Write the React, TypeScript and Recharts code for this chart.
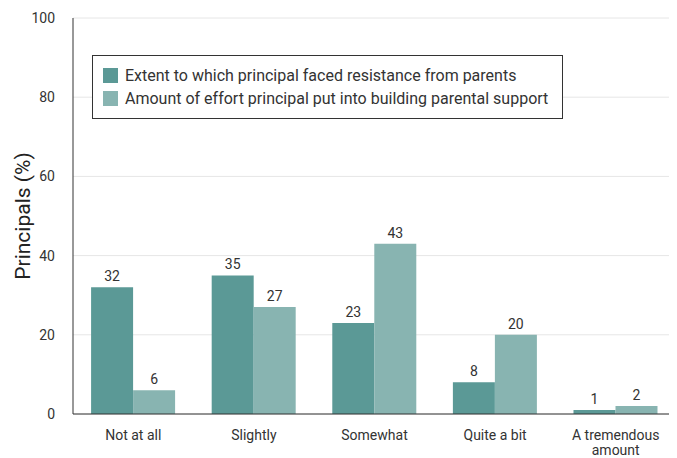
import React from "react";
import {
  BarChart,
  Bar,
  XAxis,
  YAxis,
  CartesianGrid,
  LabelList,
} from "recharts";

const categories = ["Not at all", "Slightly", "Somewhat", "Quite a bit", "A tremendous amount"];
const resistance = [32, 35, 23, 8, 1];
const effort = [6, 27, 43, 20, 2];
const yTicks = [0, 20, 40, 60, 80, 100];

const seriesNames = {
  resistance: "Extent to which principal faced resistance from parents",
  effort: "Amount of effort principal put into building parental support",
};

const DARK = "#5b9996";
const LIGHT = "#88b4b1";
const FONT = "Roboto, 'DejaVu Sans', sans-serif";

const data = categories.map((c, i) => ({
  name: c,
  resistance: resistance[i],
  effort: effort[i],
}));

function CategoryTick(props: any) {
  const { x, y, payload } = props;
  const label: string = payload.value;
  const lines = label === "A tremendous amount" ? ["A tremendous", "amount"] : [label];
  return (
    <text x={x} y={y} textAnchor="middle" fill="#333" fontSize={14} fontFamily={FONT}>
      {lines.map((l, i) => (
        <tspan key={i} x={x} dy={i === 0 ? 18 : 15}>
          {l}
        </tspan>
      ))}
    </text>
  );
}

function LegendBox() {
  const items = [
    { color: DARK, text: seriesNames.resistance },
    { color: LIGHT, text: seriesNames.effort },
  ];
  return (
    <div
      style={{
        position: "absolute",
        left: 84,
        top: 47,
        boxSizing: "border-box",
        width: 471,
        height: 64,
        border: "1px solid #333",
        background: "#fff",
        padding: "8px 10px",
        fontFamily: FONT,
        fontSize: 16,
        color: "#333",
      }}
    >
      {items.map((it) => (
        <div key={it.text} style={{ display: "flex", alignItems: "center", height: 23, whiteSpace: "nowrap" }}>
          <span style={{ flex: "none", width: 15, height: 15, background: it.color, marginRight: 7 }} />
          {it.text}
        </div>
      ))}
    </div>
  );
}

export default function App() {
  return (
    <div style={{ position: "relative", width: 669, height: 450 }}>
      <BarChart
        width={669}
        height={450}
        data={data}
        margin={{ top: 10, right: 1, bottom: 0, left: 0 }}
        barCategoryGap="15%"
        barGap={0}
        style={{ fontFamily: FONT }}
      >
        <CartesianGrid vertical={false} stroke="#e6e6e6" />
        <XAxis
          dataKey="name"
          tick={<CategoryTick />}
          tickLine={false}
          axisLine={{ stroke: "#333" }}
          height={44}
          interval={0}
        />
        <YAxis
          domain={[0, 100]}
          ticks={yTicks}
          width={65}
          tickLine={false}
          axisLine={{ stroke: "#333" }}
          tick={{ fill: "#333", fontSize: 14, fontFamily: FONT }}
          tickMargin={12}
          label={{
            value: "Principals (%)",
            angle: -90,
            position: "insideLeft",
            dx: 10,
            style: { textAnchor: "middle", fill: "#222", fontSize: 21, fontFamily: FONT },
          }}
        />
        <Bar dataKey="resistance" fill={DARK} isAnimationActive={false}>
          <LabelList dataKey="resistance" position="top" fill="#333" fontSize={14} fontFamily={FONT} offset={6} />
        </Bar>
        <Bar dataKey="effort" fill={LIGHT} isAnimationActive={false}>
          <LabelList dataKey="effort" position="top" fill="#333" fontSize={14} fontFamily={FONT} offset={6} />
        </Bar>
      </BarChart>
      <LegendBox />
    </div>
  );
}
